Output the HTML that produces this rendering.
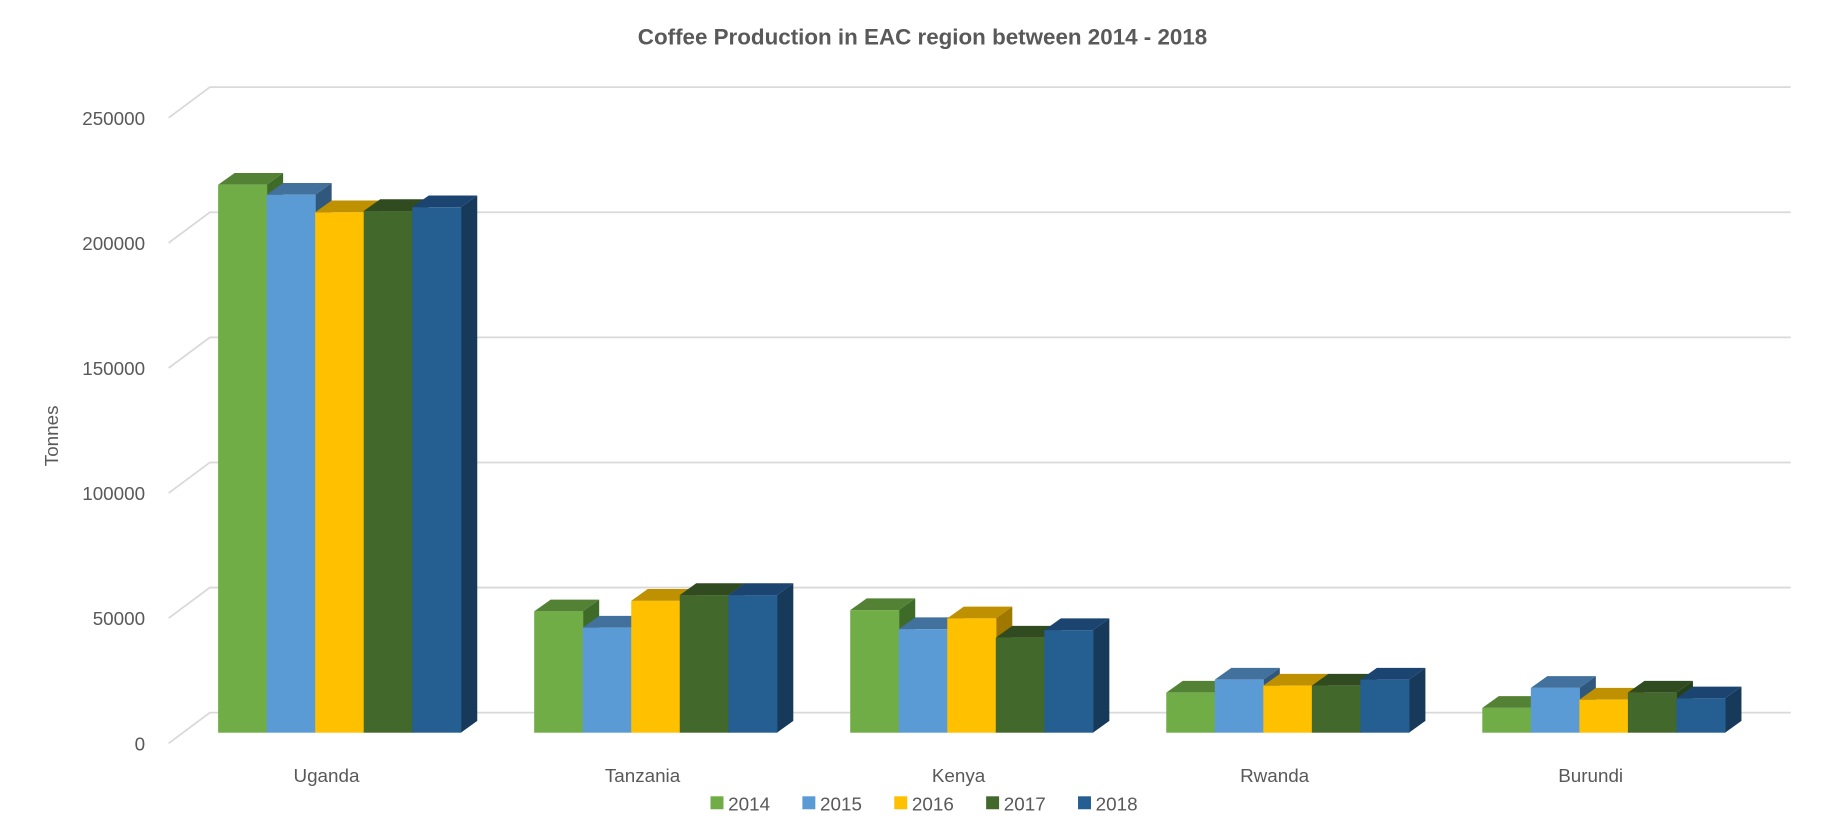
<!DOCTYPE html>
<html><head><meta charset="utf-8"><style>
html,body{margin:0;padding:0;background:#fff;}
svg{display:block;font-family:"Liberation Sans",sans-serif;}
</style></head><body>
<svg id="chart" width="1838" height="834" viewBox="0 0 1560 708" xmlns="http://www.w3.org/2000/svg">
<text x="783" y="38" text-anchor="middle" font-size="19" font-weight="bold" fill="#595959">Coffee Production in EAC region between 2014 - 2018</text>
<text transform="translate(49,370) rotate(-90)" text-anchor="middle" font-size="16" fill="#595959">Tonnes</text>
<g id="grid"></g><g id="bars"></g><g id="labels"></g><g id="legend"></g>
</svg>
<script>
const categories=["Uganda","Tanzania","Kenya","Rwanda","Burundi"];
const seriesNames=["2014","2015","2016","2017","2018"];
const v2014=[219000,48500,49000,16000,9900];
const v2015=[215000,42000,41400,21200,17900];
const v2016=[208000,52700,45700,18800,13200];
const v2017=[208500,55000,38000,18800,16000];
const v2018=[210000,55000,41000,21200,13700];
const yTicks=[0,50000,100000,150000,200000,250000];

const series=[v2014,v2015,v2016,v2017,v2018];
const front=["#70AD47","#5B9BD5","#FFC000","#43682B","#255E91"];
const topc=["#548235","#41719C","#BF9000","#2F4B1F","#1B4570"];
const side=["#3E6B27","#30587D","#A07800","#26401A","#17395A"];
const NS="http://www.w3.org/2000/svg";
const base=622, perUnit=531/250000;
function y(v){return base-v*perUnit;}
function el(t,a,p){const e=document.createElementNS(NS,t);for(const k in a)e.setAttribute(k,a[k]);p.appendChild(e);return e;}
const grid=document.getElementById('grid');
yTicks.forEach(t=>{
  const yf=631-t*perUnit*1.0;
  const yb=yf-26;
  const g=el('polyline',{points:`143,${yf} 178,${yb} 1520,${yb}`,fill:'none',stroke:'#d9d9d9','stroke-width':1.5},grid);
  
  
  const tx=el('text',{x:123,y:yf+6,'text-anchor':'end','font-size':16,fill:'#595959'},grid);
  tx.textContent=String(t);
  
  
});
const bars=document.getElementById('bars');
const pitch=268.3, x0=185, bw=41.2, dx=14, dy=10;
categories.forEach((c,ci)=>{
  const gx=x0+ci*pitch;
  series.forEach((s,si)=>{
    const x=gx+si*bw, yt=y(s[ci]);
    const g=el('g',{},bars);
    
    
    el('polygon',{points:`${x+bw},${yt} ${x+bw+dx},${yt-dy} ${x+bw+dx},${base-dy} ${x+bw},${base}`,fill:side[si]},g);
    el('polygon',{points:`${x},${yt} ${x+bw},${yt} ${x+bw+dx},${yt-dy} ${x+dx},${yt-dy}`,fill:topc[si]},g);
    el('rect',{x:x,y:yt,width:bw+0.5,height:base-yt,fill:front[si]},g);
  });
  const t=el('text',{x:gx+92,y:664,'text-anchor':'middle','font-size':16,fill:'#595959'},document.getElementById('labels'));
  t.textContent=c;
  
  
});
const lg=document.getElementById('legend');
seriesNames.forEach((n,i)=>{
  const lx=603+i*78;
  const g=el('g',{},lg);
  
  
  el('rect',{x:lx,y:676,width:11,height:11,fill:front[i]},g);
  const t=el('text',{x:lx+15,y:688,'font-size':16,fill:'#595959'},g);
  t.textContent=n;
});
</script>
</body></html>
